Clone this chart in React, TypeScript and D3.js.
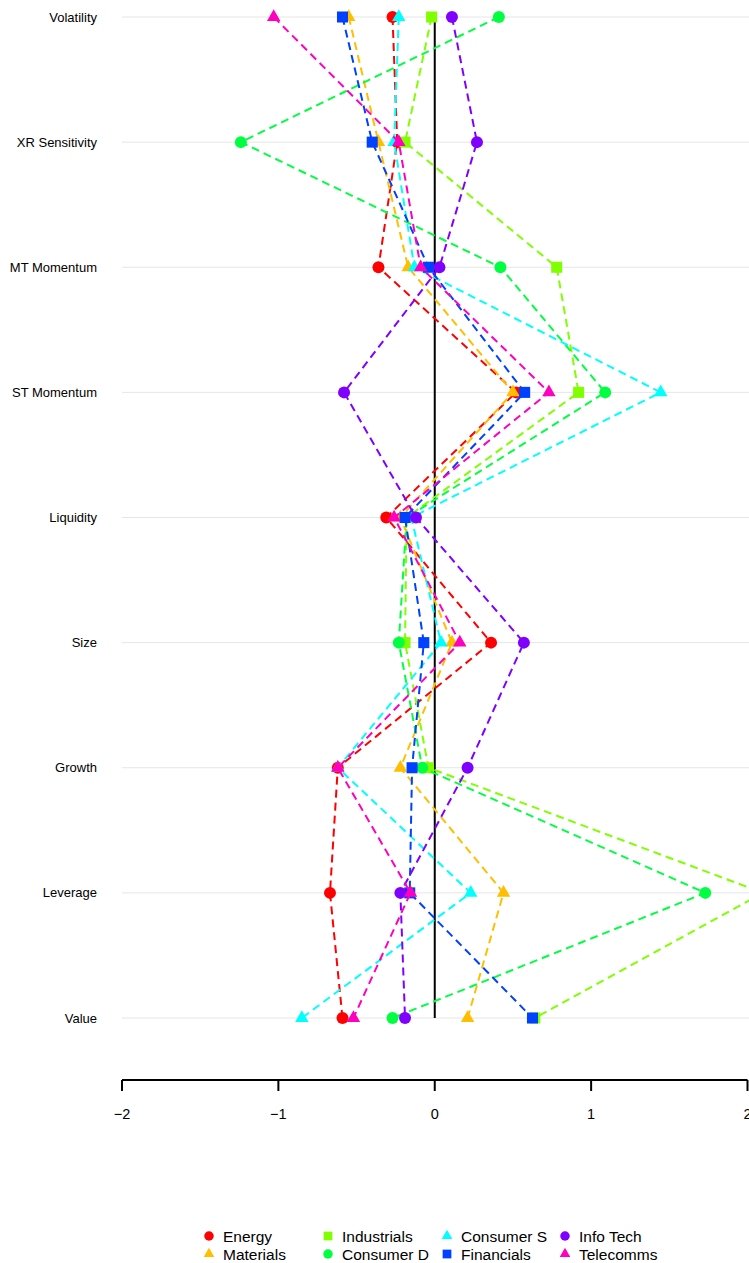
import React from "react";
import * as d3 from "d3";

const categories = ["Volatility", "XR Sensitivity", "MT Momentum", "ST Momentum", "Liquidity", "Size", "Growth", "Leverage", "Value"];
const sectors = ["Energy", "Materials", "Industrials", "Consumer D", "Consumer S", "Financials", "Info Tech", "Telecomms"];
const colors = ["#FF0000", "#FFBF00", "#80FF00", "#00FF40", "#00FFFF", "#0040FF", "#8000FF", "#FF00BF"];
const shapes = ["circle", "triangle", "square", "circle", "triangle", "square", "circle", "triangle"];

const energy = [-0.27, -0.24, -0.36, 0.52, -0.31, 0.36, -0.62, -0.67, -0.59];
const materials = [-0.55, -0.36, -0.17, 0.5, -0.22, 0.11, -0.22, 0.44, 0.21];
const industrials = [-0.02, -0.19, 0.78, 0.92, -0.18, -0.19, -0.04, 2.1, 0.64];
const consumerD = [0.41, -1.24, 0.42, 1.09, -0.18, -0.23, -0.08, 1.73, -0.27];
const consumerS = [-0.23, -0.26, -0.13, 1.445, -0.15, 0.04, -0.62, 0.23, -0.85];
const financials = [-0.59, -0.4, -0.04, 0.575, -0.19, -0.07, -0.145, -0.16, 0.625];
const infoTech = [0.11, 0.27, 0.03, -0.58, -0.12, 0.57, 0.21, -0.22, -0.19];
const telecomms = [-1.03, -0.23, -0.09, 0.73, -0.26, 0.16, -0.62, -0.155, -0.52];

const seriesValues = [energy, materials, industrials, consumerD, consumerS, financials, infoTech, telecomms];
const xTicks = [-2, -1, 0, 1, 2];

const W = 749;
const H = 1263;
const FONT = "'Liberation Sans', Arial, sans-serif";

function Marker({ shape, x, y, color, size }: { shape: string; x: number; y: number; color: string; size: number }) {
  if (shape === "circle") return <circle cx={x} cy={y} r={size * 0.5} fill={color} />;
  if (shape === "square") {
    const s = size * 0.92;
    return <rect x={x - s / 2} y={y - s / 2} width={s} height={s} fill={color} />;
  }
  const s = size * 1.12;
  const h = s * 0.866;
  const p = `${x},${y - (2 * h) / 3} ${x - s / 2},${y + h / 3} ${x + s / 2},${y + h / 3}`;
  return <polygon points={p} fill={color} />;
}

export default function App() {
  const x = d3.scaleLinear().domain([-2, 2]).range([122, 747.5]);
  const y = d3.scalePoint<string>().domain(categories).range([17, 1018]);
  const fmt = d3.format("d");
  const axisY = 1080;

  const line = d3
    .line<number>()
    .x((d) => x(d))
    .y((_, i) => y(categories[i]) as number);

  const legendCols = [209, 328, 447, 565];
  const legendRows = [1236, 1254];

  return (
    <div style={{ position: "absolute", left: 0, top: 0 }}>
      <svg width={W} height={H} style={{ display: "block", background: "#fff" }} fontFamily={FONT}>
        {categories.map((c) => (
          <g key={c}>
            <line x1={122} x2={W} y1={y(c)} y2={y(c)} stroke="#e6e6e6" strokeWidth={1} />
            <text x={97} y={(y(c) as number) + 4.5} textAnchor="end" fontSize={13} fill="#000">
              {c}
            </text>
          </g>
        ))}
        <line x1={x(0)} x2={x(0)} y1={y(categories[0])} y2={y(categories[categories.length - 1])} stroke="#000" strokeWidth={2} />
        {seriesValues.map((vals, si) => (
          <g key={sectors[si]}>
            <path d={line(vals) || ""} fill="none" stroke={colors[si]} strokeWidth={2} strokeDasharray="8,5" />
            {vals.map((v, i) => (
              <Marker key={i} shape={shapes[si]} x={x(v)} y={y(categories[i]) as number} color={colors[si]} size={12} />
            ))}
          </g>
        ))}
        <g>
          <line x1={x(-2)} x2={x(2)} y1={axisY} y2={axisY} stroke="#000" strokeWidth={2} />
          {xTicks.map((t) => (
            <g key={t}>
              <line x1={x(t)} x2={x(t)} y1={axisY} y2={axisY + 11} stroke="#000" strokeWidth={2} />
              <text x={x(t)} y={axisY + 39} textAnchor="middle" fontSize={14.5} fill="#000">
                {fmt(t)}
              </text>
            </g>
          ))}
        </g>
        {sectors.map((s, i) => {
          const col = Math.floor(i / 2);
          const row = i % 2;
          const lx = legendCols[col];
          const ly = legendRows[row];
          return (
            <g key={s}>
              <Marker shape={shapes[i]} x={lx} y={ly} color={colors[i]} size={9.5} />
              <text x={lx + 14} y={ly + 5.5} fontSize={15.5} fill="#000">
                {s}
              </text>
            </g>
          );
        })}
      </svg>
    </div>
  );
}
